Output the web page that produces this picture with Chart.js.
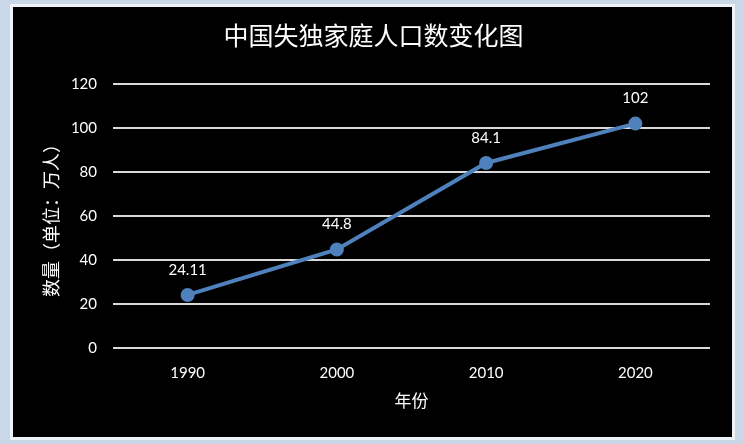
<!DOCTYPE html>
<html>
<head>
<meta charset="utf-8">
<script src="https://cdn.jsdelivr.net/npm/chart.js@4"></script>
<style>
  html, body { margin: 0; padding: 0; background: #c9d7e8; }
  #wrap { width: 744px; height: 444px; }
</style>
</head>
<body>
<div id="wrap"><canvas id="lossChart" width="744" height="444"></canvas></div>
<script>
// data
const years = ['1990', '2000', '2010', '2020'];
const families = [24.11, 44.8, 84.1, 102];
const valueLabels = ['24.11', '44.8', '84.1', '102'];

const fontFamily = "Lato, 'Noto Sans CJK SC', sans-serif";

// black panel with a light frame, like the spreadsheet screenshot
const panelBg = {
  id: 'panelBg',
  beforeDraw(chart) {
    const ctx = chart.ctx;
    ctx.save();
    ctx.fillStyle = '#c9d7e8';
    ctx.fillRect(0, 0, chart.width, chart.height);
    ctx.fillStyle = '#eef3fa';
    ctx.fillRect(10, 4, 725, 436);
    ctx.fillStyle = '#000';
    ctx.fillRect(13, 7, 719, 430);
    ctx.restore();
  }
};

// value labels above each point
const pointLabels = {
  id: 'pointLabels',
  afterDatasetsDraw(chart) {
    const ctx = chart.ctx;
    const meta = chart.getDatasetMeta(0);
    ctx.save();
    ctx.fillStyle = '#fff';
    ctx.font = '15px ' + fontFamily;
    ctx.textAlign = 'center';
    ctx.textBaseline = 'middle';
    meta.data.forEach((pt, i) => {
      ctx.fillText(valueLabels[i], pt.x, pt.y - 25);
    });
    ctx.restore();
  }
};

const config = {
  type: 'line',
  data: {
    labels: years,
    datasets: [{
      label: '失独家庭人口',
      data: families,
      borderColor: '#4f81bd',
      backgroundColor: '#4f81bd',
      borderWidth: 4,
      pointRadius: 5,
      pointHoverRadius: 5,
      tension: 0
    }]
  },
  options: {
    responsive: false,
    animation: false,
    layout: {
      padding: { left: 37, right: 34, top: 0, bottom: 28 }
    },
    plugins: {
      legend: { display: false },
      tooltip: { enabled: false },
      title: {
        display: true,
        text: '中国失独家庭人口数变化图',
        color: '#fff',
        font: { family: fontFamily, size: 25, weight: 'normal' },
        padding: { top: 22, bottom: 32 }
      }
    },
    scales: {
      x: {
        offset: true,
        grid: { display: false },
        border: { display: false },
        ticks: {
          color: '#fff',
          font: { family: fontFamily, size: 15 },
          padding: 8
        },
        title: {
          display: true,
          text: '年份',
          color: '#fff',
          font: { family: fontFamily, size: 17 },
          padding: { top: 4 }
        },
        afterFit(scale) { scale.height = 68; }
      },
      y: {
        min: 0,
        max: 120,
        ticks: {
          stepSize: 20,
          color: '#fff',
          font: { family: fontFamily, size: 15 },
          padding: 16
        },
        grid: {
          color: '#d9d9d9',
          lineWidth: 2,
          drawTicks: false
        },
        border: { display: false },
        title: {
          display: true,
          text: '数量（单位：万人）',
          color: '#fff',
          font: { family: fontFamily, size: 18 },
          padding: { bottom: 8 }
        },
        afterFit(scale) { scale.width = 76; }
      }
    }
  },
  plugins: [panelBg, pointLabels]
};

const chart = new Chart(document.getElementById('lossChart'), config);
</script>
</body>
</html>
